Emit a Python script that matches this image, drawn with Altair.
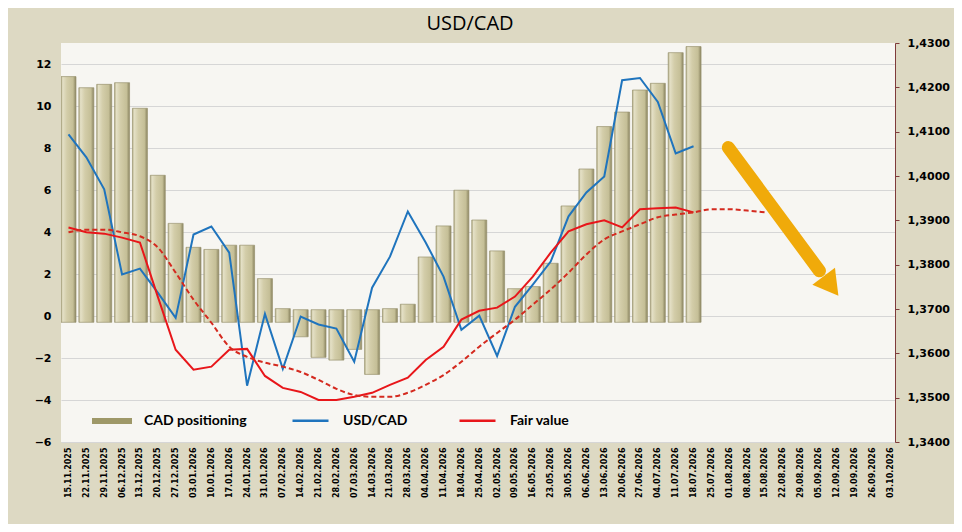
import json

import altair as alt
import pandas as pd

# weekly tick labels on the x axis
weeks = [
    "15.11.2025", "22.11.2025", "29.11.2025", "06.12.2025", "13.12.2025",
    "20.12.2025", "27.12.2025", "03.01.2026", "10.01.2026", "17.01.2026",
    "24.01.2026", "31.01.2026", "07.02.2026", "14.02.2026", "21.02.2026",
    "28.02.2026", "07.03.2026", "14.03.2026", "21.03.2026", "28.03.2026",
    "04.04.2026", "11.04.2026", "18.04.2026", "25.04.2026", "02.05.2026",
    "09.05.2026", "16.05.2026", "23.05.2026", "30.05.2026", "06.06.2026",
    "13.06.2026", "20.06.2026", "27.06.2026", "04.07.2026", "11.07.2026",
    "18.07.2026", "25.07.2026", "01.08.2026", "08.08.2026", "15.08.2026",
    "22.08.2026", "29.08.2026", "05.09.2026", "12.09.2026", "19.09.2026",
    "26.09.2026", "03.10.2026",
]

# CAD positioning (left axis)
cad = [
    11.4, 10.87, 11.03, 11.11, 9.89, 6.7, 4.41, 3.27, 3.17, 3.37, 3.37, 1.78,
    0.35, -0.99, -1.97, -2.1, -1.59, -2.78, 0.35, 0.56, 2.81, 4.29, 5.99, 4.57,
    3.1, 1.3, 1.4, 2.51, 5.24, 7.0, 9.02, 9.71, 10.76, 11.08, 12.54, 12.83,
]

# USD/CAD (right axis)
usdcad = [
    1.4094, 1.4042, 1.3970, 1.3778, 1.3791, 1.3737, 1.3680, 1.3868, 1.3886,
    1.3827, 1.3527, 1.3689, 1.3565, 1.3683, 1.3665, 1.3656, 1.3581, 1.3748,
    1.3818, 1.3920, 1.3850, 1.3773, 1.3653, 1.3685, 1.3594, 1.3705, 1.3755,
    1.3807, 1.3909, 1.3963, 1.3999, 1.4216, 1.4221, 1.4167, 1.4051, 1.4067,
]

# fair value (right axis)
fair = [
    1.3884, 1.3873, 1.3870, 1.3861, 1.3850, 1.3728, 1.3608, 1.3563, 1.3570,
    1.3608, 1.3610, 1.3549, 1.3522, 1.3513, 1.3495, 1.3495, 1.3502, 1.3511,
    1.3529, 1.3545, 1.3585, 1.3615, 1.3676, 1.3696, 1.3703, 1.3728, 1.3773,
    1.3827, 1.3875, 1.3891, 1.3900, 1.3884, 1.3925, 1.3927, 1.3929, 1.3918,
]

# fair value trend (dashed, runs a few weeks further)
fair_trend = [
    1.3873, 1.3879, 1.3879, 1.3873, 1.3864, 1.3839, 1.3782, 1.3721, 1.3669,
    1.3615, 1.3592, 1.3579, 1.3570, 1.3558, 1.3540, 1.3520, 1.3506, 1.3502,
    1.3502, 1.3511, 1.3529, 1.3551, 1.3581, 1.3615, 1.3646, 1.3676, 1.3710,
    1.3744, 1.3782, 1.3823, 1.3857, 1.3875, 1.3891, 1.3907, 1.3913, 1.3918,
    1.3925, 1.3925, 1.3922, 1.3918,
]

left_ticks = [-6, -4, -2, 0, 2, 4, 6, 8, 10, 12]
right_ticks = [1.34, 1.35, 1.36, 1.37, 1.38, 1.39, 1.40, 1.41, 1.42, 1.43]

# arrow annotation, in week index / left axis units
arrow_x = [36.95, 42.05]
arrow_y = [8.02, 2.15]
arrow_head = (42.56, 1.58)

bar_df = pd.DataFrame({"i": range(len(cad)), "cad": cad, "series": "CAD positioning"})
line_df = pd.concat([
    pd.DataFrame({"i": range(len(usdcad)), "v": usdcad, "series": "USD/CAD"}),
    pd.DataFrame({"i": range(len(fair)), "v": fair, "series": "Fair value"}),
])
trend_df = pd.DataFrame({"i": range(len(fair_trend)), "v": fair_trend})
shaft_df = pd.DataFrame({"x0": [arrow_x[0]], "x1": [arrow_x[1]], "y0": [arrow_y[0]], "y1": [arrow_y[1]]})
head_df = pd.DataFrame({"x": [arrow_head[0]], "y": [arrow_head[1]]})

x_scale = alt.Scale(domain=[-0.14, len(weeks) - 1], nice=False, zero=False)
x_axis = alt.Axis(
    values=list(range(len(weeks))),
    labelExpr=json.dumps(weeks) + "[datum.value]",
    labelAngle=-90,
    labelFont="DejaVu Sans",
    labelFontSize=8,
    labelFontWeight="bold",
    labelColor="black",
    labelPadding=5,
    labelOverlap=False,
    labelFlush=False,
    ticks=False,
    domain=False,
    grid=False,
)
x_enc = alt.X("i:Q", title=None, scale=x_scale, axis=x_axis)

left_scale = alt.Scale(domain=[-6, 13], nice=False, zero=False)
right_scale = alt.Scale(domain=[1.34, 1.43], nice=False, zero=False)

bar_fill = alt.LinearGradient(
    gradient="linear",
    x1=0, x2=1, y1=0, y2=0,
    stops=[
        alt.GradientStop(color="#b3ad86", offset=0),
        alt.GradientStop(color="#e4e0c6", offset=0.12),
        alt.GradientStop(color="#d3cda9", offset=0.4),
        alt.GradientStop(color="#c5bf97", offset=0.8),
        alt.GradientStop(color="#8a8460", offset=1),
    ],
)

bars = (
    alt.Chart(bar_df)
    .transform_calculate(base="datum.cad >= 0 ? -0.3 : 0.3")
    .mark_bar(size=15, clip=True, fill=bar_fill, stroke="#9a9470", strokeWidth=0.7)
    .encode(
        x=x_enc,
        y=alt.Y(
            "cad:Q",
            title=None,
            scale=left_scale,
            axis=alt.Axis(
                values=left_ticks,
                labelFont="DejaVu Sans",
                labelFontSize=11,
                labelFontWeight="bold",
                labelColor="black",
                labelPadding=10,
                grid=True,
                gridColor="#d6d6d6",
                domain=False,
                ticks=False,
            ),
        ),
        y2="base:Q",
    )
)

# legend entry for the bars
bar_legend = (
    alt.Chart(bar_df)
    .transform_filter("false")
    .mark_bar()
    .encode(
        x=x_enc,
        y=alt.Y("cad:Q", scale=left_scale, axis=None),
        fill=alt.Fill(
            "series:N",
            scale=alt.Scale(domain=["CAD positioning"], range=["#9e9868"]),
            legend=alt.Legend(
                orient="none",
                legendX=31,
                legendY=358,
                title=None,
                symbolType="M-1,-0.15H1V0.15H-1Z",
                symbolSize=1600,
                symbolStrokeWidth=0,
                labelFont="Lato",
                labelFontSize=14,
                labelFontWeight="bold",
                labelColor="black",
                labelOffset=12,
                padding=0,
            ),
        ),
    )
)

lines = (
    alt.Chart(line_df)
    .mark_line(strokeWidth=2)
    .encode(
        x=x_enc,
        y=alt.Y(
            "v:Q",
            title=None,
            scale=right_scale,
            axis=alt.Axis(
                orient="right",
                values=right_ticks,
                labelExpr="replace(format(datum.value, '.4f'), '.', ',')",
                labelFont="DejaVu Sans",
                labelFontSize=11,
                labelFontWeight="bold",
                labelColor="black",
                labelPadding=8,
                grid=False,
                domainColor="#7f3b3b",
                tickColor="#7f3b3b",
                tickSize=4,
            ),
        ),
        stroke=alt.Stroke(
            "series:N",
            scale=alt.Scale(domain=["USD/CAD", "Fair value"], range=["#1f74bd", "#e8161a"]),
            legend=alt.Legend(
                orient="none",
                legendX=230,
                legendY=358,
                direction="horizontal",
                title=None,
                symbolType="stroke",
                symbolSize=1296,
                symbolStrokeWidth=2.5,
                labelFont="Lato",
                labelFontSize=14,
                labelFontWeight="bold",
                labelColor="black",
                labelOffset=13,
                columnPadding=46,
                padding=0,
            ),
        ),
    )
)

trend = (
    alt.Chart(trend_df)
    .mark_line(strokeWidth=2, strokeDash=[5, 3], color="#d42a1f", interpolate="monotone")
    .encode(x=x_enc, y=alt.Y("v:Q", scale=right_scale, axis=None))
)

shaft = (
    alt.Chart(shaft_df)
    .mark_rule(strokeWidth=13, strokeCap="round", color="#f0aa0a")
    .encode(
        x=alt.X("x0:Q", scale=x_scale, axis=x_axis, title=None),
        x2="x1:Q",
        y=alt.Y("y0:Q", scale=left_scale, axis=None),
        y2="y1:Q",
    )
)

head = (
    alt.Chart(head_df)
    .mark_point(shape="triangle", angle=143, size=800, filled=True, opacity=1, color="#f0aa0a")
    .encode(
        x=alt.X("x:Q", scale=x_scale, axis=x_axis, title=None),
        y=alt.Y("y:Q", scale=left_scale, axis=None),
    )
)

chart = (
    alt.layer(bars, bar_legend, lines, trend, shaft, head)
    .resolve_scale(y="independent")
    .properties(
        title=alt.TitleParams(
            "USD/CAD",
            font="Open Sans",
            fontSize=20,
            fontWeight="normal",
            color="black",
            anchor="middle",
            offset=3,
            dx=-8,
        ),
        width=834,
        height=399,
        padding={"left": 53, "top": 35, "right": 59, "bottom": 82},
        autosize=alt.AutoSizeParams(type="none"),
        background="#ddd9c3",
    )
    .configure_view(fill="#f7f6f2", stroke=None)
)

chart.save("out.html", embed_options={"renderer": "svg", "actions": False})
